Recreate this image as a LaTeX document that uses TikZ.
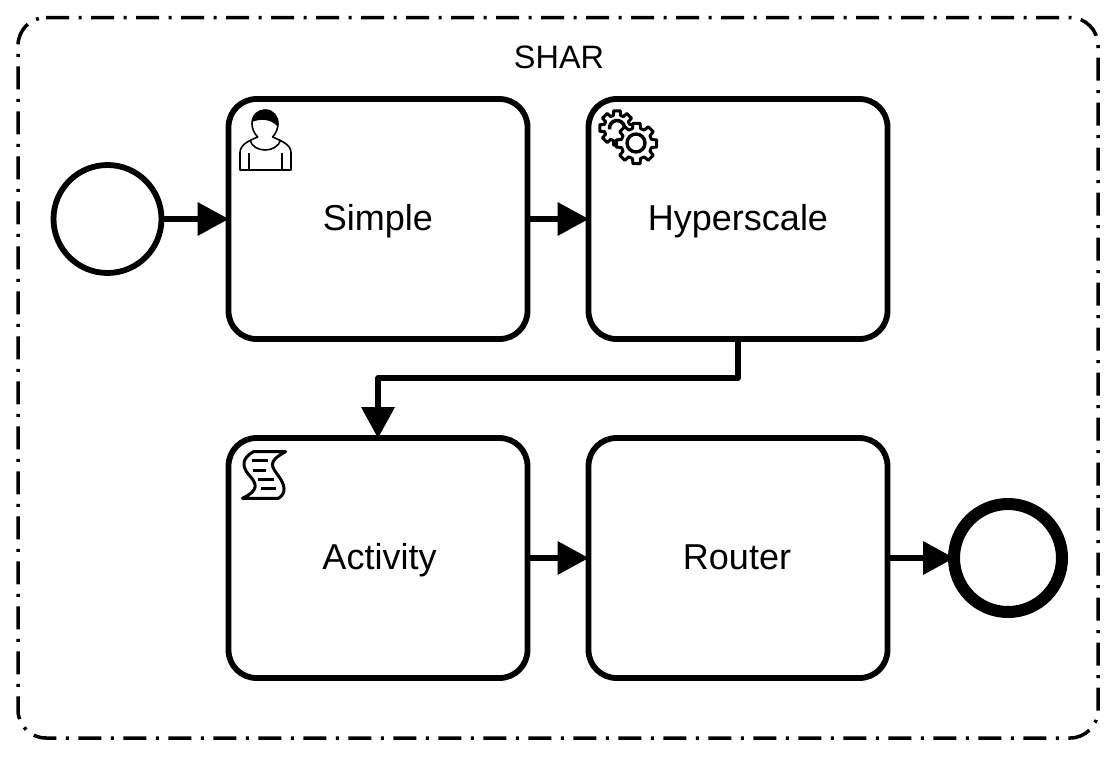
\documentclass[tikz,border=0pt]{standalone}
\usepackage{fontspec}
\setmainfont{Liberation Sans}
\usetikzlibrary{arrows.meta,calc}
\tikzset{
  task/.style={draw=black,line width=5.8pt,rounded corners=28pt,minimum width=299pt,minimum height=240pt,outer sep=0pt,inner sep=0pt,font=\fontsize{36}{40}\selectfont,text=black,text height=28pt,text depth=6pt},
  startev/.style={circle,draw=black,line width=5.8pt,minimum size=108pt,outer sep=0pt,inner sep=0pt},
  endev/.style={circle,draw=black,line width=12pt,minimum size=108pt,outer sep=0pt,inner sep=0pt},
  flow/.style={draw=black,line width=5.8pt,line join=round,-{Triangle[length=31pt,width=34pt,line width=0pt]}},
  frame/.style={draw=black,line width=3.5pt,dash pattern=on 23pt off 9.5pt on 3pt off 9.5pt},
  grp/.style={font=\fontsize{32.4}{36}\selectfont,text=black},
  ico/.style={draw=black,line width=1.5pt,line join=round}
}
\newcommand{\gearshape}[5]{% cx cy Router Rinner toothhalf
  \path[ico,fill=white,line width=3pt] ($(#1,#2)+(-#5:#3)$) \foreach \a in {0,45,...,315} {
    -- ($(#1,#2)+(\a-#5:#3)$) -- ($(#1,#2)+(\a+#5:#3)$) -- ($(#1,#2)+(\a+#5+5:#4)$) -- ($(#1,#2)+(\a+45-#5-5:#4)$)
  } -- cycle;
}
\begin{document}
\begin{tikzpicture}[x=1pt,y=-1pt]
\useasboundingbox[fill=white] (0,0) rectangle (1116,756);
% frame
\coordinate (fs) at (46,17.5);
\draw[frame] (fs) -- (1070,17.5) arc[start angle=90,end angle=0,x radius=28,y radius=-28] -- (1098,710)
  arc[start angle=0,end angle=-90,x radius=28,y radius=-28] -- (46,738)
  arc[start angle=-90,end angle=-180,x radius=28,y radius=-28] -- (18,45.5)
  arc[start angle=180,end angle=90,x radius=28,y radius=-28] -- cycle;
\node[grp] (shar) at (559,57) {SHAR};
% events and tasks
\node[startev] (start) at (107.5,219) {};
\node[task] (simple) at (378,219) {Simple};
\node[task] (hyper) at (738,219) {Hyperscale};
\node[task] (activity) at (378,558) {\hspace*{3pt}Activity};
\node[task] (router) at (738,558) {Router\hspace*{2pt}};
\node[endev] (end) at (1008,558) {};
% flows
\draw[flow] (start) -- (simple);
\draw[flow] (simple) -- (hyper);
\draw[flow] (hyper.south) -- ++(0,39) -| (activity.north);
\draw[flow] (activity) -- (router);
\draw[flow] (router) -- (end);
% user icon
\begin{scope}[shift={(225,95)},x=0.3333pt,y=-0.3333pt]
  \draw[ico,line width=1.6pt] (45,225) -- (45,172) .. controls (47,150) and (65,140) .. (98,126)
     .. controls (85,112) and (82,100) .. (81,88) .. controls (80,60) and (100,45) .. (120,45)
     .. controls (145,45) and (160,65) .. (159,88) .. controls (158,100) and (155,112) .. (143,126)
     .. controls (175,140) and (197,150) .. (198,172) -- (198,225) -- cycle;
  \fill[black] (83,80) .. controls (80,60) and (100,45) .. (120,45) .. controls (145,45) and (160,65) .. (158,94)
     .. controls (135,70) and (105,72) .. (83,80) -- cycle;
  \draw[ico,line width=1.6pt] (75,135) .. controls (85,175) and (155,175) .. (167,135);
  \draw[ico,line width=1.6pt] (72,175) -- (72,225) (171,175) -- (171,225);
\end{scope}
% gears
\gearshape{617}{128}{17.5}{13}{11}
\draw[black,line width=3.6pt] (617,128) ++(170:7.5) arc[start angle=170,end angle=350,radius=7.5];
\gearshape{636.5}{143.5}{20.5}{15.5}{10}
\draw[black,line width=3.4pt,fill=white] (636,143) circle (9);
% script icon
\begin{scope}[shift={(225,435)},x=0.3333pt,y=-0.3333pt]
  \draw[ico,line width=3pt] (52,190) -- (160,190) .. controls (185,175) and (180,150) .. (162,125)
     .. controls (140,95) and (125,80) .. (182,50) -- (85,50) .. controls (50,70) and (50,95) .. (72,120)
     .. controls (95,145) and (105,165) .. (52,190) -- cycle;
  \draw[ico,line width=3pt] (80,77) -- (128,77) (83,106) -- (124,106) (100,134) -- (146,134) (108,161) -- (153,161);
\end{scope}
\end{tikzpicture}
\end{document}
